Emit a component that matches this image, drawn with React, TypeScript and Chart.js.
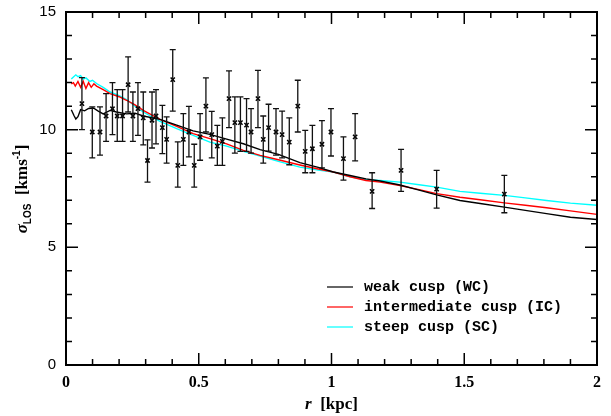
import React, { useEffect, useRef } from "react";
import { Chart, registerables } from "chart.js";

Chart.register(...registerables);

// Observed data: radius (kpc), sigma_LOS and error bar bounds (km/s)
const obsR = [0.060, 0.099, 0.128, 0.151, 0.175, 0.193, 0.213, 0.234, 0.252, 0.271, 0.291, 0.307, 0.324, 0.339, 0.363, 0.379, 0.402, 0.421, 0.442, 0.463, 0.483, 0.505, 0.527, 0.549, 0.570, 0.589, 0.614, 0.636, 0.657, 0.680, 0.697, 0.723, 0.743, 0.763, 0.791, 0.814, 0.841, 0.873, 0.901, 0.928, 0.964, 0.998, 1.045, 1.089, 1.153, 1.262, 1.396, 1.651];
const obsSigma = [11.11, 9.90, 9.90, 10.58, 10.89, 10.58, 10.58, 11.91, 10.58, 10.89, 10.50, 8.69, 10.40, 10.58, 10.09, 9.59, 12.13, 8.48, 9.59, 9.90, 8.48, 9.69, 11.0, 9.79, 9.30, 9.50, 11.32, 10.30, 10.30, 10.19, 9.90, 11.32, 9.59, 10.09, 9.90, 9.79, 9.47, 11.0, 9.08, 9.19, 9.38, 9.90, 8.77, 9.69, 7.38, 8.27, 7.47, 7.26];
const obsLo = [10.0, 8.80, 8.92, 9.50, 9.79, 9.50, 9.50, 10.75, 9.50, 9.76, 9.35, 7.77, 9.22, 9.40, 8.98, 8.58, 10.79, 7.56, 8.48, 8.84, 7.56, 8.70, 9.90, 8.80, 8.48, 8.48, 10.09, 9.0, 9.08, 9.08, 9.0, 10.09, 8.58, 9.09, 8.92, 8.80, 8.51, 9.90, 8.17, 8.17, 8.38, 8.88, 7.86, 8.67, 6.65, 7.38, 6.67, 6.47];
const obsHi = [12.21, 10.97, 10.97, 11.53, 12.0, 11.70, 11.70, 13.09, 11.60, 12.0, 11.60, 9.57, 11.60, 11.70, 11.03, 10.54, 13.40, 9.48, 10.68, 10.99, 9.38, 10.68, 12.20, 10.78, 10.18, 10.50, 12.50, 11.39, 11.39, 11.32, 10.89, 12.52, 10.58, 11.08, 10.89, 10.79, 10.50, 12.10, 9.97, 10.18, 10.38, 10.89, 9.69, 10.68, 8.17, 9.16, 8.27, 8.06];

// Model curves
const wcR = [0.02, 0.03, 0.037, 0.045, 0.055, 0.07, 0.085, 0.103, 0.12, 0.14, 0.166, 0.19, 0.228, 0.26, 0.291, 0.354, 0.417, 0.479, 0.542, 0.605, 0.668, 0.731, 0.8, 0.881, 0.95, 1.007, 1.07, 1.13, 1.183, 1.258, 1.33, 1.396, 1.484, 1.56, 1.651, 1.73, 1.81, 1.9, 2.0];
const wcSigma = [10.85, 10.6, 10.45, 10.55, 10.85, 10.8, 10.9, 10.92, 10.8, 10.67, 10.82, 10.75, 10.67, 10.7, 10.58, 10.44, 10.19, 9.95, 9.8, 9.6, 9.4, 9.15, 8.95, 8.6, 8.4, 8.2, 8.05, 7.91, 7.82, 7.65, 7.43, 7.23, 6.99, 6.86, 6.71, 6.57, 6.43, 6.28, 6.18];

const icR = [0.02, 0.028, 0.035, 0.045, 0.055, 0.065, 0.075, 0.085, 0.095, 0.105, 0.115, 0.14, 0.166, 0.2, 0.228, 0.26, 0.291, 0.354, 0.417, 0.479, 0.542, 0.605, 0.668, 0.731, 0.8, 0.881, 0.95, 1.007, 1.07, 1.13, 1.183, 1.258, 1.33, 1.396, 1.484, 1.56, 1.651, 1.73, 1.81, 1.9, 2.0];
const icSigma = [11.95, 12.0, 11.85, 12.05, 11.8, 12.05, 11.75, 12.0, 11.8, 11.95, 11.85, 11.7, 11.53, 11.4, 11.25, 11.05, 10.82, 10.44, 10.14, 9.83, 9.62, 9.40, 9.12, 8.91, 8.72, 8.50, 8.33, 8.2, 8.0, 7.84, 7.77, 7.62, 7.45, 7.28, 7.13, 7.02, 6.89, 6.79, 6.68, 6.55, 6.40];

const scR = [0.02, 0.028, 0.037, 0.045, 0.055, 0.065, 0.075, 0.09, 0.1, 0.115, 0.14, 0.166, 0.2, 0.228, 0.26, 0.291, 0.354, 0.417, 0.479, 0.542, 0.605, 0.668, 0.731, 0.8, 0.881, 0.95, 1.007, 1.07, 1.13, 1.183, 1.258, 1.33, 1.396, 1.484, 1.56, 1.651, 1.73, 1.81, 1.9, 2.0];
const scSigma = [12.15, 12.24, 12.33, 12.25, 12.3, 12.15, 12.2, 12.05, 12.1, 11.96, 11.8, 11.6, 11.45, 11.28, 11.0, 10.75, 10.35, 10.04, 9.76, 9.47, 9.30, 9.08, 8.88, 8.65, 8.41, 8.28, 8.2, 8.0, 7.87, 7.84, 7.77, 7.66, 7.56, 7.38, 7.3, 7.21, 7.1, 6.99, 6.88, 6.79];

const seriesLabels = ["weak cusp (WC)", "intermediate cusp (IC)", "steep cusp (SC)"];
const seriesColors = ["#000000", "#ff0000", "#00ffff"];
const xTicks = [0, 0.5, 1, 1.5, 2];
const yTicks = [0, 5, 10, 15];

const toXY = (xs: number[], ys: number[]) => xs.map((x, i) => ({ x, y: ys[i] }));

const framePlugin = {
  id: "frame",
  afterDraw(chart: any) {
    const { ctx, chartArea: a, scales } = chart;
    const xs = scales.x, ys = scales.y;
    ctx.save();
    // error bars
    ctx.strokeStyle = "#111";
    ctx.lineWidth = 1.3;
    obsR.forEach((r, i) => {
      const px = xs.getPixelForValue(r);
      const y1 = ys.getPixelForValue(obsLo[i]);
      const y2 = ys.getPixelForValue(obsHi[i]);
      ctx.beginPath();
      ctx.moveTo(px, y1); ctx.lineTo(px, y2);
      ctx.moveTo(px - 3, y1); ctx.lineTo(px + 3, y1);
      ctx.moveTo(px - 3, y2); ctx.lineTo(px + 3, y2);
      ctx.stroke();
    });
    // frame
    ctx.strokeStyle = "#000";
    ctx.lineWidth = 2;
    ctx.strokeRect(a.left, a.top, a.right - a.left, a.bottom - a.top);
    ctx.lineWidth = 1.5;
    ctx.beginPath();
    for (let v = 0; v <= 2.0001; v += 0.1) {
      const px = xs.getPixelForValue(v);
      const major = Math.abs(v * 2 - Math.round(v * 2)) < 1e-6;
      const len = major ? 12 : 6;
      ctx.moveTo(px, a.bottom); ctx.lineTo(px, a.bottom - len);
      ctx.moveTo(px, a.top); ctx.lineTo(px, a.top + len);
    }
    for (let v = 0; v <= 15; v += 1) {
      const py = ys.getPixelForValue(v);
      const len = v % 5 === 0 ? 12 : 6;
      ctx.moveTo(a.left, py); ctx.lineTo(a.left + len, py);
      ctx.moveTo(a.right, py); ctx.lineTo(a.right - len, py);
    }
    ctx.stroke();
    // legend
    ctx.font = "bold 15px 'Liberation Mono', monospace";
    ctx.textBaseline = "middle";
    ctx.textAlign = "left";
    const lx = 327, ly = 287;
    seriesLabels.forEach((lab, i) => {
      const y = ly + i * 20;
      ctx.strokeStyle = seriesColors[i];
      ctx.lineWidth = 1.2;
      ctx.beginPath(); ctx.moveTo(lx, y); ctx.lineTo(lx + 26, y); ctx.stroke();
      ctx.fillStyle = "#000";
      ctx.fillText(lab, lx + 37, y);
    });
    // axis titles
    ctx.fillStyle = "#000";
    ctx.textBaseline = "alphabetic";
    const cx = (a.left + a.right) / 2;
    ctx.font = "italic bold 17px 'Liberation Serif', serif";
    const rW = ctx.measureText("r").width;
    ctx.font = "bold 17px 'Liberation Serif', serif";
    const restW = ctx.measureText("  [kpc]").width;
    let sx = cx - (rW + restW) / 2;
    ctx.font = "italic bold 17px 'Liberation Serif', serif";
    ctx.fillText("r", sx, 409);
    ctx.font = "bold 17px 'Liberation Serif', serif";
    ctx.fillText("  [kpc]", sx + rW, 409);

    ctx.translate(27, 189);
    ctx.rotate(-Math.PI / 2);
    const parts: [string, string, number][] = [
      ["σ", "italic bold 17px 'Liberation Serif', serif", 0],
      ["LOS", "bold 10px 'Liberation Sans', sans-serif", 4],
      ["  [kms", "bold 17px 'Liberation Serif', serif", 0],
      ["-1", "bold 10px 'Liberation Sans', sans-serif", -7],
      ["]", "bold 17px 'Liberation Serif', serif", 0],
    ];
    let tw = 0;
    parts.forEach(([t, f]) => { ctx.font = f; tw += ctx.measureText(t).width; });
    let tx = -tw / 2;
    parts.forEach(([t, f, dy]) => {
      ctx.font = f;
      ctx.fillText(t, tx, dy);
      tx += ctx.measureText(t).width;
    });
    ctx.restore();
  },
};

export default function App() {
  const ref = useRef<HTMLCanvasElement>(null);
  useEffect(() => {
    document.body.style.margin = "0";
    const lineDs = (xs: number[], ys: number[], i: number) => ({
      type: "line" as const,
      label: seriesLabels[i],
      data: toXY(xs, ys),
      borderColor: seriesColors[i],
      borderWidth: 1.4,
      pointRadius: 0,
      fill: false,
      tension: 0,
      order: 2,
    });
    const chart = new Chart(ref.current!, {
      type: "scatter",
      data: {
        datasets: [
          lineDs(wcR, wcSigma, 0),
          lineDs(icR, icSigma, 1),
          lineDs(scR, scSigma, 2),
          {
            type: "scatter",
            label: "data",
            data: toXY(obsR, obsSigma),
            pointStyle: "crossRot",
            pointRadius: 3,
            borderColor: "#000",
            borderWidth: 1.5,
            order: 1,
          } as any,
        ],
      },
      options: {
        responsive: false,
        animation: false,
        layout: { padding: { left: 0, right: 14, top: 12, bottom: 0 } },
        plugins: { legend: { display: false }, tooltip: { enabled: false } },
        scales: {
          x: {
            type: "linear",
            min: 0,
            max: 2,
            afterBuildTicks: (s: any) => { s.ticks = xTicks.map((v) => ({ value: v })); },
            afterFit: (s: any) => { s.height = 51; s.paddingLeft = 0; s.paddingRight = 0; },
            grid: { display: false, drawTicks: false },
            border: { display: false },
            ticks: {
              padding: 8,
              color: "#000",
              font: { family: "'Liberation Serif', serif", size: 16, weight: "bold" },
              callback: (v: any) => String(v),
              maxRotation: 0,
            },
          },
          y: {
            type: "linear",
            min: 0,
            max: 15,
            afterBuildTicks: (s: any) => { s.ticks = yTicks.map((v) => ({ value: v })); },
            afterFit: (s: any) => { s.width = 66; s.paddingTop = 0; s.paddingBottom = 0; },
            grid: { display: false, drawTicks: false },
            border: { display: false },
            ticks: {
              padding: 10,
              color: "#000",
              font: { family: "'Liberation Sans', sans-serif", size: 15 },
              callback: (v: any) => String(v),
            },
          },
        },
      },
      plugins: [framePlugin],
    });
    return () => chart.destroy();
  }, []);
  return <canvas ref={ref} width={611} height={416} style={{ display: "block" }} />;
}
